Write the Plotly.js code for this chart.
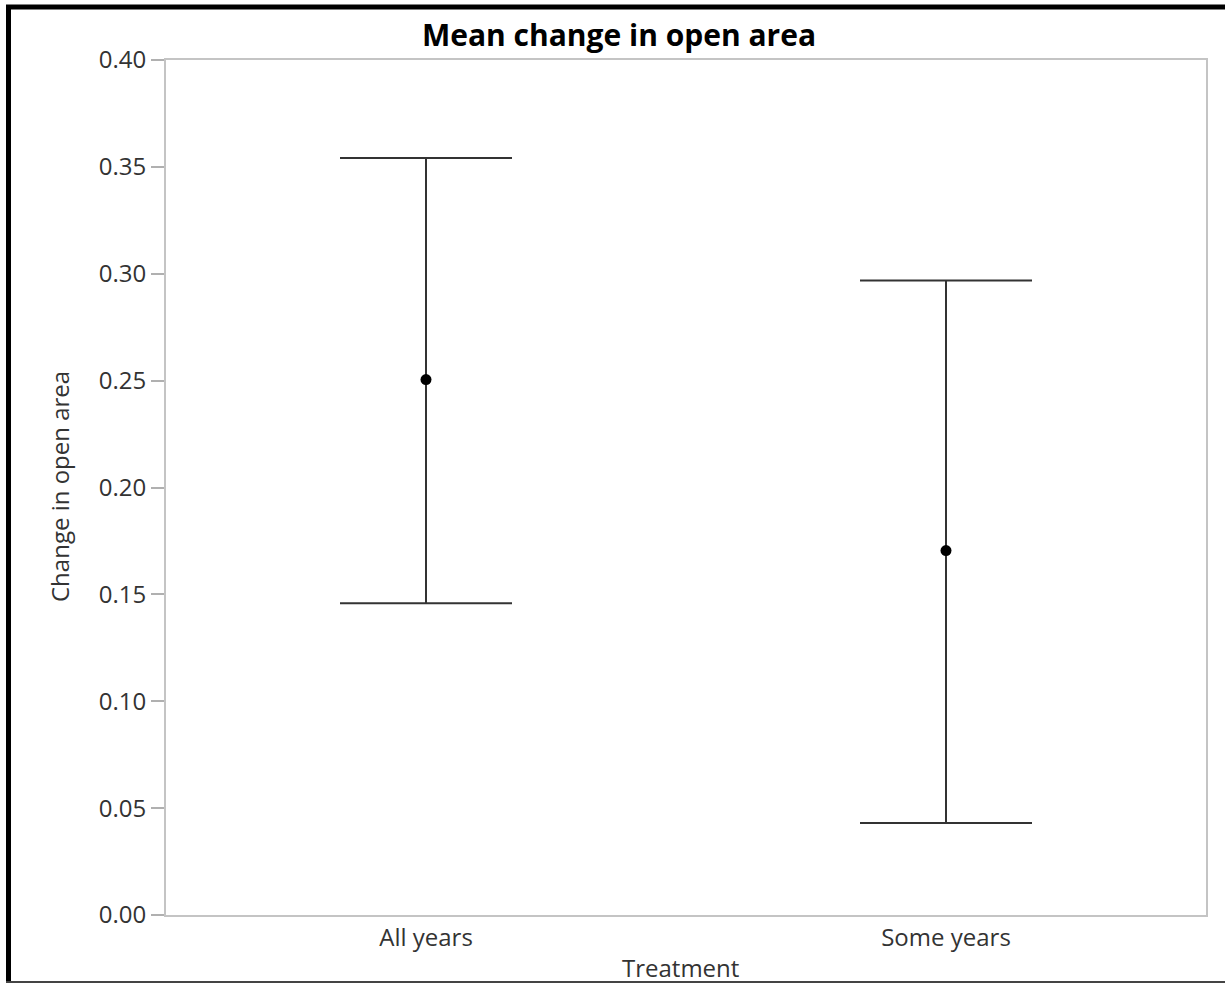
<!DOCTYPE html>
<html>
<head>
<meta charset="utf-8">
<script src="https://cdn.plot.ly/plotly-3.0.1.min.js"></script>
<style>
html,body{margin:0;padding:0;background:#fff;}
#chart{width:1225px;height:983px;}
</style>
</head>
<body>
<div id="chart"></div>
<script>
// Data
const treatments = ["All years", "Some years"];
const means = [0.2505, 0.1705];
const upper = [0.3542, 0.2968];
const lower = [0.1458, 0.0430];
const yTicks = [0, 0.05, 0.10, 0.15, 0.20, 0.25, 0.30, 0.35, 0.40];
const xTitle = 'Treatment';
const yTitle = 'Change in open area';
const chartTitle = 'Mean change in open area';

const W = 1225, H = 983;
const M = {l: 166, r: 19, t: 60, b: 68};
const pw = W - M.l - M.r, ph = H - M.t - M.b;
const px = x => (x - M.l) / pw;
const py = y => (H - M.b - y) / ph;

const trace = {
  type: 'scatter',
  mode: 'markers',
  x: treatments,
  y: means,
  marker: {color: '#000', size: 11},
  error_y: {
    type: 'data',
    symmetric: false,
    array: upper.map((u, i) => u - means[i]),
    arrayminus: lower.map((l, i) => means[i] - l),
    width: 86,
    thickness: 2,
    color: '#333'
  },
  hoverinfo: 'x+y'
};

const font = "'Open Sans', 'Segoe UI', sans-serif";

const layout = {
  width: W, height: H,
  margin: M,
  paper_bgcolor: '#fff',
  plot_bgcolor: '#fff',
  showlegend: false,
  title: {
    text: chartTitle,
    font: {family: font, size: 30, color: '#000', weight: 'bold'},
    xref: 'container', x: 619 / W, xanchor: 'center',
    yref: 'container', y: 1 - 35 / H, yanchor: 'middle'
  },
  xaxis: {
    type: 'category',
    range: [-0.5, 1.5],
    showgrid: false, zeroline: false,
    showline: true, mirror: true, linecolor: '#c4c4c4', linewidth: 2,
    ticks: '',
    tickfont: {family: font, size: 24, color: '#333'}
  },
  yaxis: {
    range: [0, 0.40],
    tickvals: yTicks,
    tickformat: '.2f',
    showgrid: false, zeroline: false,
    showline: true, mirror: true, linecolor: '#c4c4c4', linewidth: 2,
    ticks: 'outside', ticklen: 13, tickcolor: '#b0b0b0', tickwidth: 2,
    tickfont: {family: font, size: 24, color: '#333'}
  },
  annotations: [
    {text: xTitle, xref: 'paper', yref: 'paper', x: px(680), y: py(967), xanchor: 'center', yanchor: 'middle',
     showarrow: false, font: {family: font, size: 24, color: '#333'}},
    {text: yTitle, xref: 'paper', yref: 'paper', x: px(60), y: py(487), xanchor: 'center', yanchor: 'middle',
     textangle: -90, showarrow: false, font: {family: font, size: 24, color: '#333'}}
  ],
  shapes: [
    {type: 'line', xref: 'paper', yref: 'paper', x0: px(8.5), x1: px(8.5), y0: py(5), y1: py(H), line: {color: '#000', width: 5}},
    {type: 'line', xref: 'paper', yref: 'paper', x0: px(6), x1: px(W), y0: py(7), y1: py(7), line: {color: '#000', width: 5}},
    {type: 'line', xref: 'paper', yref: 'paper', x0: px(6), x1: px(W), y0: py(982), y1: py(982), line: {color: '#444', width: 2}}
  ]
};

Plotly.newPlot('chart', [trace], layout, {displayModeBar: false, staticPlot: true});
</script>
</body>
</html>
